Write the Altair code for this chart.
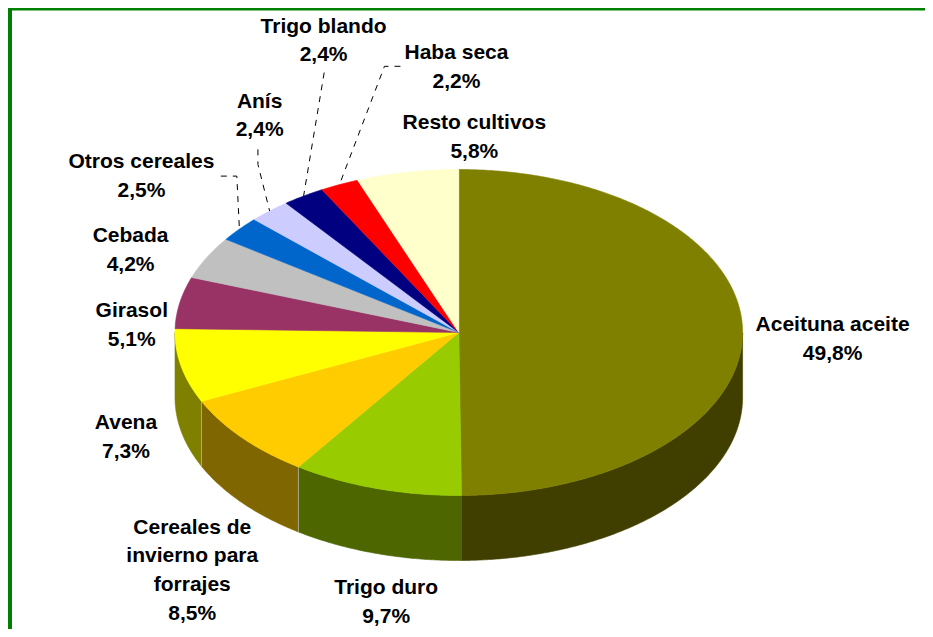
import math
import altair as alt

# ---- values ----
names = ["Aceituna aceite", "Trigo duro", "Cereales de\ninvierno para\nforrajes", "Avena", "Girasol",
         "Cebada", "Otros cereales", "Anís", "Trigo blando", "Haba seca", "Resto cultivos"]
shares = [49.8, 9.7, 8.5, 7.3, 5.1, 4.2, 2.5, 2.4, 2.4, 2.2, 5.8]
top_colors = ["#808000", "#99CC00", "#FFCC00", "#FFFF00", "#993366", "#C0C0C0",
              "#0066CC", "#CCCCFF", "#000080", "#FF0000", "#FFFFCC"]
wall_colors = ["#403F00", "#4D6600", "#806600", "#808000", "#4D1A33", "#606060",
               "#003366", "#666680", "#000040", "#800000", "#808066"]

# ---- layout (page pixels) ----
CX, CY, RX, RY, DEPTH = 458.8, 332.5, 283.8, 163.0, 65.0
W, H = 917, 621
FONT, FONT_SIZE, LINE_H = "Liberation Sans", 21, 28.9
label_offsets = [(90, 8), (10, 114), (-50, 133), (-55, 72), (-48, 23), (-76, -7.5),
                 (-98, -53), (-10, -95), (20, -155), (117, -117), (67, -35)]
leaders = {"Otros cereales": [(-18.6, -53), (-2.6, -53)],
           "Anís": [(-11.7, -61.6), (-11.7, -46.6)],
           "Trigo blando": [(20.6, -123.5)],
           "Haba seca": [(61, -118.3), (45, -118.3)]}


def pt(deg, depth=0.0):
    a = math.radians(deg)
    return [CX + RX * math.sin(a), -(CY - RY * math.cos(a) + depth)]


def arc(a, b, depth=0.0):
    n = max(2, int(abs(b - a)) * 2 + 1)
    return [pt(a + (b - a) * i / (n - 1), depth) for i in range(n)]


def feature(geom_type, coords, color):
    return {"type": "Feature", "properties": {"color": color},
            "geometry": {"type": geom_type, "coordinates": coords}}


total = sum(shares)
tops, walls, seams, lines, text_rows = [], [], [], [], []
start = 0.0
for name, share, tc, wc, off in zip(names, shares, top_colors, wall_colors, label_offsets):
    end = start + share / total * 360
    tops.append(feature("Polygon", [[[CX, -CY]] + arc(start, end) + [[CX, -CY]]], tc))
    a, b = max(start, 90.0), min(end, 270.0)
    if a < b:
        ring = arc(a, b) + arc(b, a, DEPTH)
        walls.append(feature("Polygon", [ring + [ring[0]]], wc))
        if b < 270.0 and b > 185:
            seams.append(feature("LineString", [pt(b), pt(b, DEPTH)], "#A8A88C"))
    mid = (start + end) / 2
    mx, my = pt(mid)
    my = -my
    if name in leaders:
        path = [[mx + dx, -(my + dy)] for dx, dy in leaders[name]] + [[mx, -my]]
        lines.append(feature("LineString", path, "#000000"))
    parts = name.split("\n") + [f"{share:.1f}%".replace(".", ",")]
    cx, cy = mx + off[0], my + off[1]
    for i, t in enumerate(parts):
        y = cy + (i - (len(parts) - 1) / 2) * LINE_H
        text_rows.append({"t": t, "lon": cx, "lat": -y})
    start = end

border = [feature("LineString", [[10, -6], [10, -637]], "#008000"),
          feature("LineString", [[8, -8.5], [933, -8.5]], "#008000")]

projection = alt.Projection(type="identity", reflectY=True, scale=1, translate=[-8, -8])


def polys(features):
    return alt.Chart(alt.Data(values=features)).mark_geoshape(strokeWidth=0.6).encode(
        fill=alt.Color("properties.color:N", scale=None),
        stroke=alt.Color("properties.color:N", scale=None),
    )


wall_layer = polys(walls)
top_layer = polys(tops)
seam_layer = alt.Chart(alt.Data(values=seams)).mark_geoshape(filled=False, strokeWidth=1).encode(
    stroke=alt.Color("properties.color:N", scale=None))
leader_layer = alt.Chart(alt.Data(values=lines)).mark_geoshape(
    filled=False, strokeWidth=1, strokeDash=[6, 6]).encode(
    stroke=alt.Color("properties.color:N", scale=None))
border_layer = alt.Chart(alt.Data(values=border)).mark_geoshape(filled=False, strokeWidth=4).encode(
    stroke=alt.Color("properties.color:N", scale=None))
text_layer = alt.Chart(alt.Data(values=text_rows)).mark_text(
    font=FONT, fontSize=FONT_SIZE, fontWeight="bold", color="#000000", baseline="middle", align="center"
).encode(longitude="lon:Q", latitude="lat:Q", text="t:N")

chart = alt.layer(border_layer, wall_layer, seam_layer, top_layer, leader_layer, text_layer).properties(
    width=W, height=H, projection=projection, padding=0, background="#FFFFFF",
    autosize=alt.AutoSizeParams(type="none"),
).configure_view(stroke=None)

chart.save("out.html", embed_options={"renderer": "svg", "actions": False})
